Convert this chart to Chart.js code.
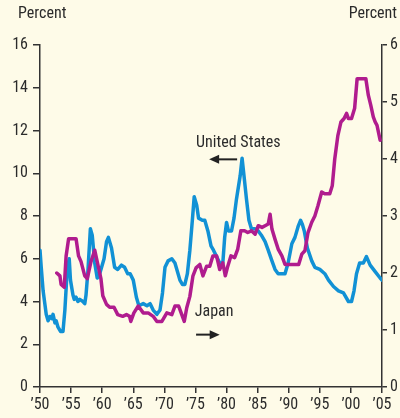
<!DOCTYPE html>
<html><head><meta charset="utf-8">
<script src="https://cdn.jsdelivr.net/npm/chart.js@4.4.1/dist/chart.umd.min.js"></script>
<style>
html,body{margin:0;padding:0;background:#FEFBE8;}
#wrap{position:relative;width:400px;height:418px;}
</style></head><body>
<div id="wrap"><canvas id="c" width="400" height="418"></canvas></div>
<script>
// United States (left axis, percent)
const usYears = [1950.0,1950.2,1950.5,1951.0,1951.3,1951.6,1951.9,1952.1,1952.4,1952.6,
1952.9,1953.3,1953.7,1954.0,1954.4,1954.7,1954.9,1955.3,1955.5,1955.8,
1956.1,1956.4,1956.9,1957.2,1957.4,1957.7,1958.1,1958.4,1958.8,1959.2,
1959.5,1959.8,1960.3,1960.7,1961.0,1961.5,1962.0,1962.5,1963.1,1963.6,
1964.1,1964.5,1965.0,1965.5,1965.9,1966.6,1967.2,1967.7,1968.2,1968.8,
1969.3,1969.7,1970.1,1970.6,1971.2,1971.7,1972.1,1972.5,1972.9,1973.3,
1973.7,1974.1,1974.5,1974.8,1975.2,1975.5,1976.1,1976.5,1977.0,1977.5,
1977.9,1978.4,1978.9,1979.4,1979.7,1980.0,1980.3,1980.8,1981.2,1981.6,
1982.2,1982.5,1982.8,1983.2,1983.6,1984.0,1984.6,1985.1,1985.6,1986.2,
1986.7,1987.3,1987.8,1988.3,1988.9,1989.4,1989.9,1990.5,1991.0,1991.5,
1991.9,1992.2,1992.5,1993.0,1993.7,1994.2,1995.0,1995.8,1996.4,1997.2,
1998.0,1998.8,1999.6,2000.1,2000.5,2000.9,2001.4,2002.0,2002.5,2003.1,
2003.9,2004.7,2005.0];
const usValues = [6.4,5.6,4.5,3.4,3.1,3.3,3.2,3.4,3.0,3.1,
2.8,2.6,2.6,3.6,5.6,6.0,5.0,4.3,4.1,4.2,
4.0,4.1,4.0,3.9,4.3,5.4,7.4,7.1,5.8,5.1,
5.2,5.5,6.0,6.8,7.0,6.5,5.6,5.5,5.7,5.6,
5.3,5.3,5.0,4.2,3.8,3.9,3.8,3.9,3.6,3.4,
3.6,4.4,5.6,5.9,6.0,5.8,5.4,5.0,4.8,4.8,
5.3,6.4,7.8,8.9,8.5,7.9,7.8,7.8,7.3,6.6,
6.4,6.1,5.8,5.8,7.0,7.7,7.3,7.3,7.9,8.8,
9.9,10.7,9.9,8.8,7.8,7.4,7.4,7.3,7.1,6.8,
6.4,5.9,5.5,5.3,5.3,5.3,5.8,6.7,7.0,7.5,
7.8,7.6,7.3,6.5,5.9,5.6,5.5,5.3,5.0,4.7,
4.5,4.4,4.0,4.0,4.5,5.3,5.8,5.8,6.1,5.7,
5.4,5.1,5.0];

// Japan (right axis, percent)
const jpYears = [1952.7,1953.2,1953.4,1953.9,1954.2,1954.6,1955.0,1955.8,1956.2,1956.6,
1957.2,1957.6,1958.2,1958.8,1959.2,1959.8,1960.1,1960.7,1961.2,1961.9,
1962.5,1963.3,1963.9,1964.4,1964.6,1965.1,1965.8,1966.6,1967.4,1968.2,
1968.8,1969.6,1970.4,1971.2,1971.7,1972.3,1972.8,1973.2,1973.6,1974.1,
1974.6,1975.1,1975.7,1976.2,1976.8,1977.3,1977.8,1978.4,1978.9,1979.4,
1979.8,1980.2,1980.7,1981.3,1981.8,1982.3,1982.9,1983.4,1984.0,1984.6,
1985.1,1985.7,1986.2,1986.7,1987.0,1987.3,1987.8,1988.3,1988.9,1989.4,
1990.0,1990.8,1991.6,1992.1,1992.6,1993.1,1993.7,1994.2,1994.7,1995.3,
1995.8,1996.6,1997.0,1997.4,1997.9,1998.4,1998.9,1999.3,1999.6,2000.1,
2000.6,2001.0,2001.6,2002.4,2002.8,2003.2,2003.6,2003.9,2004.2,2004.7];
const jpValues = [2.0,1.95,1.8,1.75,2.3,2.6,2.6,2.6,2.3,2.2,
1.95,1.9,2.2,2.4,2.2,1.9,1.6,1.45,1.4,1.4,
1.27,1.24,1.27,1.24,1.15,1.3,1.42,1.3,1.3,1.24,
1.15,1.15,1.3,1.27,1.42,1.42,1.27,1.15,1.39,1.59,
1.95,2.09,2.15,1.95,2.12,2.12,2.3,2.3,2.06,2.18,
1.95,2.12,2.3,2.27,2.42,2.74,2.74,2.71,2.74,2.68,
2.83,2.8,2.83,2.86,3.03,2.77,2.59,2.42,2.3,2.15,
2.15,2.15,2.15,2.33,2.39,2.71,2.89,3.0,3.18,3.42,
3.39,3.39,3.53,4.0,4.41,4.65,4.71,4.8,4.71,4.71,
4.89,5.41,5.41,5.41,5.12,4.94,4.74,4.65,4.59,4.33];

const seriesLabels = ['United States', 'Japan'];
const axisTitle = 'Percent';

const FONT = '"Roboto Condensed","Liberation Sans",Arial,sans-serif';
const TXT = '#2b2b2b';
const AX = '#333333';

function arrow(ctx, x1, y, x2) {
  const dir = Math.sign(x2 - x1);
  ctx.beginPath();
  ctx.moveTo(x1, y);
  ctx.lineTo(x2 - dir * 6, y);
  ctx.lineWidth = 2;
  ctx.strokeStyle = '#222';
  ctx.stroke();
  ctx.beginPath();
  ctx.moveTo(x2, y);
  ctx.lineTo(x2 - dir * 10, y - 4.5);
  ctx.lineTo(x2 - dir * 10, y + 4.5);
  ctx.closePath();
  ctx.fillStyle = '#222';
  ctx.fill();
}

const labelsPlugin = {
  id: 'labels',
  afterDraw(chart) {
    const ctx = chart.ctx, xs = chart.scales.x, ys = chart.scales.y, ca = chart.chartArea;
    ctx.save();
    ctx.font = '16px ' + FONT;
    ctx.fillStyle = TXT;
    ctx.textBaseline = 'middle';
    ctx.textAlign = 'left';
    ctx.fillText(axisTitle, ca.left - 22, ca.top - 31);
    ctx.textAlign = 'right';
    ctx.fillText(axisTitle, ca.right + 15, ca.top - 31);
    ctx.textAlign = 'center';
    ctx.fillText(seriesLabels[0], xs.getPixelForValue(1981.9), ys.getPixelForValue(11.4));
    arrow(ctx, xs.getPixelForValue(1981.7), ys.getPixelForValue(10.65), xs.getPixelForValue(1977.2));
    ctx.textAlign = 'left';
    ctx.fillStyle = TXT;
    ctx.fillText(seriesLabels[1], xs.getPixelForValue(1974.9), ys.getPixelForValue(3.5));
    arrow(ctx, xs.getPixelForValue(1975.1), ys.getPixelForValue(2.45), xs.getPixelForValue(1978.9));
    ctx.restore();
  }
};

const tickFont = { family: FONT, size: 16 };

new Chart(document.getElementById('c'), {
  type: 'line',
  data: {
    datasets: [
      {
        label: seriesLabels[1],
        data: jpYears.map((x, i) => ({ x: x, y: jpValues[i] })),
        yAxisID: 'y2',
        borderColor: '#B01C8E',
        borderWidth: 3.5,
        pointRadius: 0,
        tension: 0,
        borderJoinStyle: 'round',
        borderCapStyle: 'round'
      },
      {
        label: seriesLabels[0],
        data: usYears.map((x, i) => ({ x: x, y: usValues[i] })),
        yAxisID: 'y',
        borderColor: '#1191D5',
        borderWidth: 3.5,
        pointRadius: 0,
        tension: 0,
        borderJoinStyle: 'round',
        borderCapStyle: 'round'
      }
    ]
  },
  options: {
    responsive: false,
    animation: false,
    layout: { padding: { top: 45, left: 0, right: 0, bottom: 0 } },
    plugins: { legend: { display: false }, tooltip: { enabled: false } },
    scales: {
      x: {
        type: 'linear', min: 1950, max: 2005,
        border: { color: AX, width: 1.5 },
        grid: { drawOnChartArea: false, drawTicks: true, tickLength: 6, color: AX, lineWidth: 1.5 },
        ticks: { stepSize: 5, color: TXT, font: tickFont, padding: 2, maxRotation: 0, autoSkip: false,
                 callback: v => '\u2019' + String(v).slice(2) },
        afterFit: s => { s.height = 31; }
      },
      y: {
        position: 'left', min: 0, max: 16,
        border: { color: AX, width: 1.5 },
        grid: { drawOnChartArea: false, tickLength: 7, color: AX, lineWidth: 1.5 },
        ticks: { stepSize: 2, color: TXT, font: tickFont, padding: 5 },
        afterFit: s => { s.width = 40; }
      },
      y2: {
        position: 'right', min: 0, max: 6,
        border: { color: AX, width: 1.5 },
        grid: { drawOnChartArea: false, tickLength: 5, color: AX, lineWidth: 1.5 },
        ticks: { stepSize: 1, color: TXT, font: tickFont, padding: 3 },
        afterFit: s => { s.width = 18; }
      }
    }
  },
  plugins: [labelsPlugin]
});
</script>
</body></html>
